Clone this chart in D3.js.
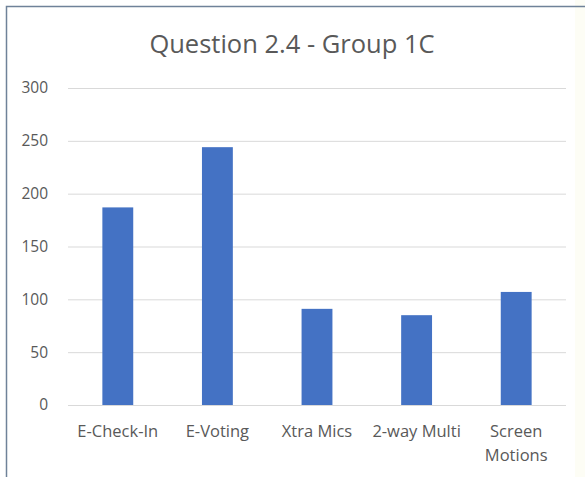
<!DOCTYPE html>
<html>
<head>
<meta charset="utf-8">
<script src="https://cdn.jsdelivr.net/npm/d3@7"></script>
<style>
  body { margin: 0; background: #fff; }
  text { font-family: "Open Sans", "Noto Sans", sans-serif; fill: #595959; }
</style>
</head>
<body>
<div id="chart"></div>
<script>
// chart data
var categories = ["E-Check-In", "E-Voting", "Xtra Mics", "2-way Multi", "Screen Motions"];
var values = [187, 244, 91, 85, 107];
var yTicks = [0, 50, 100, 150, 200, 250, 300];
var title = "Question 2.4 - Group 1C";

var width = 585, height = 477;
var margins = {top: 88, right: 19, bottom: 72, left: 68};

var svg = d3.select("#chart").append("svg")
    .attr("width", width)
    .attr("height", height);

// frame: cream edge on right, border on top/left
svg.append("rect")
    .attr("x", 575).attr("y", 0)
    .attr("width", 10).attr("height", height)
    .style("fill", "#fdfdf5");
svg.append("path")
    .attr("d", "M6.5," + height + "V6.5H" + width)
    .style("fill", "none")
    .style("stroke", "#6f8299")
    .style("stroke-width", 1.5);

var xScale = d3.scaleBand()
    .domain(categories)
    .range([margins.left, width - margins.right])
    .paddingInner(0.69)
    .paddingOuter(0.345);

var yScale = d3.scaleLinear()
    .domain([0, 300])
    .range([height - margins.bottom, margins.top]);

// grid lines
var yAxis = d3.axisLeft(yScale)
    .tickValues(yTicks)
    .tickSize(-(width - margins.left - margins.right))
    .tickPadding(20)
    .tickFormat(d3.format("d"));

var axiY = svg.append("g")
    .attr("transform", "translate(" + margins.left + ",0)")
    .call(yAxis);
axiY.select(".domain").remove();
axiY.selectAll(".tick line").style("stroke", "#d9d9d9");
axiY.selectAll(".tick text")
    .style("font-size", "15.5px")
    .style("font-family", "'Open Sans', sans-serif")
    .style("fill", "#595959");

// bars
svg.selectAll(".bar")
    .data(values)
    .enter().append("rect")
    .attr("class", "bar")
    .attr("x", function(d, i) { return xScale(categories[i]); })
    .attr("y", function(d) { return yScale(d); })
    .attr("width", xScale.bandwidth())
    .attr("height", function(d) { return yScale(0) - yScale(d); })
    .style("fill", "#4472c4");

// category labels (wrap two-word labels that don't fit)
var labels = svg.selectAll(".cat")
    .data(categories)
    .enter().append("text")
    .attr("class", "cat")
    .attr("text-anchor", "middle")
    .attr("x", function(d) { return xScale(d) + xScale.bandwidth() / 2; })
    .attr("y", yScale(0) + 32)
    .style("font-size", "16.5px");
labels.each(function(d) {
    var t = d3.select(this);
    var lines = d === "Screen Motions" ? ["Screen", "Motions"] : [d];
    lines.forEach(function(l, i) {
        t.append("tspan")
            .attr("x", t.attr("x"))
            .attr("dy", i === 0 ? 0 : 24)
            .text(l);
    });
});

// title
svg.append("text")
    .attr("x", 292)
    .attr("y", 53)
    .attr("text-anchor", "middle")
    .style("font-size", "25.5px")
    .text(title);
</script>
</body>
</html>
